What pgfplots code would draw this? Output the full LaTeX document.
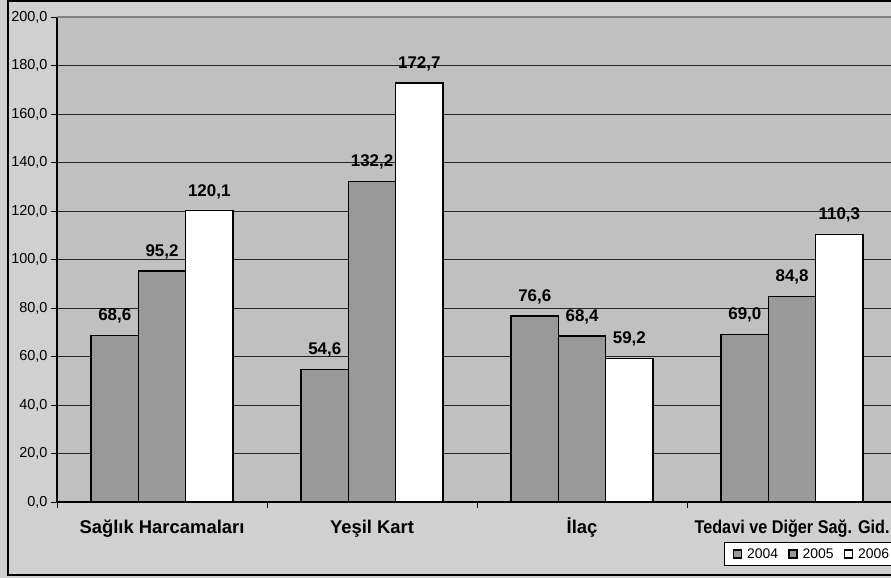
\documentclass[border=0pt]{standalone}
\usepackage{pgfplots}
\pgfplotsset{compat=1.18}
\usepackage{fontspec}
\setmainfont{Liberation Sans}
\definecolor{outerbg}{RGB}{208,208,208}
\definecolor{plotbg}{RGB}{192,192,192}
\definecolor{bargray}{RGB}{153,153,153}
\newcommand{\tl}[1]{\mbox{\fontsize{14.5}{16}\selectfont #1}}
\begin{document}
\begin{tikzpicture}[x=1bp,y=1bp]
\useasboundingbox (0,0) rectangle (891,578);
\fill[outerbg] (0,0) rectangle (891,578);
\draw[black, line width=1.2bp] (8,3) rectangle (905,577);
\begin{axis}[
  at={(57bp,76bp)}, anchor=south west,
  scale only axis, width=834bp, height=485bp,
  xmin=-0.5, xmax=3.471, ymin=0, ymax=200,
  ybar=0pt, bar width=0.225,
  axis background/.style={fill=plotbg},
  axis x line*=bottom, axis y line*=left,
  axis line style={-, black, line width=1.3bp},
  ytick={0,20,40,60,80,100,120,140,160,180,200},
  yticklabels={\tl{0{,}0},\tl{20{,}0},\tl{40{,}0},\tl{60{,}0},\tl{80{,}0},\tl{100{,}0},\tl{120{,}0},\tl{140{,}0},\tl{160{,}0},\tl{180{,}0},\tl{200{,}0}},
  ymajorgrids, grid style={black!85, line width=0.8bp},
  tick align=outside, major tick length=6bp,
  every tick/.append style={black, line width=0.8bp},
  xtick={-0.5,0.5,1.5,2.5},
  xticklabels={,,,},
  extra x ticks={0,1,2,3},
  extra x tick labels={Sağlık Harcamaları, Yeşil Kart, İlaç, \scalebox{0.88}[1]{Tedavi ve Diğer Sağ. Gid.}},
  extra x tick style={grid=none, major tick length=0pt, tick label style={font=\bfseries\fontsize{18.5}{20}\selectfont, text height=14bp, text depth=4bp, yshift=-14bp}},
  nodes near coords,
  nodes near coords style={font=\bfseries\fontsize{17}{19}\selectfont, yshift=8bp},
  legend image code/.code={\draw[#1, draw=black, line width=1.5bp] (0bp,-4bp) rectangle (8bp,4bp);},
  legend columns=3,
  legend style={at={(0.7998,-0.0825)}, anchor=north west, draw=black, line width=1bp, fill=white,
    font=\fontsize{14}{16}\selectfont, inner xsep=8bp, inner ysep=4bp,
    /tikz/every odd column/.append style={column sep=3bp},
    /tikz/every even column/.append style={column sep=8bp}},
  clip=false,
  /pgf/number format/use comma,
  /pgf/number format/fixed,
  /pgf/number format/fixed zerofill,
  /pgf/number format/precision=1,
  /pgf/number format/assume math mode=true,
]
\addplot[fill=bargray, draw=black, line width=1.5bp] coordinates {(0,68.6) (1,54.6) (2,76.6) (3,69.0)};
\addplot[fill=bargray, draw=black, line width=1.5bp] coordinates {(0,95.2) (1,132.2) (2,68.4) (3,84.8)};
\addplot[fill=white, draw=black, line width=1.5bp] coordinates {(0,120.1) (1,172.7) (2,59.2) (3,110.3)};
\draw[gray, line width=1.8bp] (axis cs:-0.5,200) -- (axis cs:3.471,200);
\legend{2004,2005,2006}
\end{axis}
\end{tikzpicture}
\end{document}
